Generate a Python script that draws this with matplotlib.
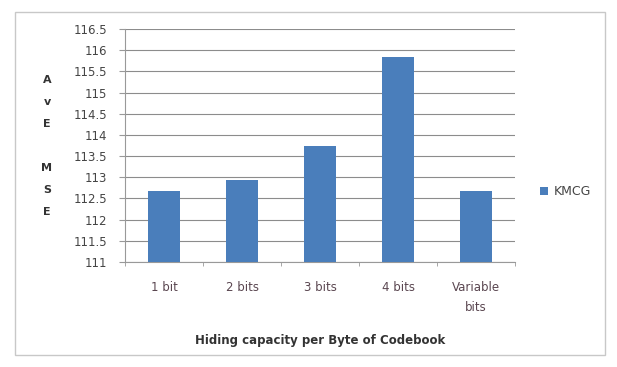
import matplotlib.pyplot as plt
from matplotlib.patches import Rectangle

# Данные
categories = ['1 bit', '2 bits', '3 bits', '4 bits', 'Variable\nbits']
kmcg = [112.68, 112.94, 113.74, 115.83, 112.68]
y_ticks = [111, 111.5, 112, 112.5, 113, 113.5, 114, 114.5, 115, 115.5, 116, 116.5]
y_labels = ['111', '111.5', '112', '112.5', '113', '113.5', '114', '114.5',
            '115', '115.5', '116', '116.5']

plt.rcParams['font.family'] = ['DejaVu Sans']

fig = plt.figure(figsize=(6.17, 3.67), dpi=100)
ax = fig.add_axes([125 / 617, 1 - 262 / 367, 390 / 617, 233 / 367])

# Рамка вокруг всей диаграммы
fig.patches.append(Rectangle((15 / 617, 1 - 355 / 367), 590 / 617, 343 / 367,
                             transform=fig.transFigure, fill=False,
                             edgecolor='#c8c8c8', linewidth=1))

x = list(range(len(categories)))
ax.bar(x, [v - 111 for v in kmcg], bottom=111, width=0.41,
       color='#4a7ebb', label='KMCG', zorder=3)

ax.set_xlim(-0.5, len(categories) - 0.5)
ax.set_ylim(111, 116.5)
ax.set_yticks(y_ticks)
ax.set_yticklabels(y_labels, fontsize=8.5, color='#454545')
ax.set_xticks(x)
ax.set_xticklabels(categories, fontsize=8.5, color='#5a4650', linespacing=1.7)
ax.set_xticks([i + 0.5 for i in range(-1, len(categories))], minor=True)
ax.tick_params(axis='x', which='major', length=0, pad=14)
ax.tick_params(axis='x', which='minor', length=3, color='#999999')
ax.tick_params(axis='y', length=4, color='#999999', pad=9)

ax.grid(axis='y', color='#8c8c8c', linewidth=0.8, zorder=0)
for side in ['top', 'right']:
    ax.spines[side].set_visible(False)
ax.spines['left'].set_color('#999999')
ax.spines['bottom'].set_color('#999999')

ax.set_xlabel('Hiding capacity per Byte of Codebook', fontsize=8.5,
              fontweight='bold', color='#333333', labelpad=14)

# Подпись оси Y буквами столбиком
fig.text(47 / 617, 1 - 146 / 367, 'A\nv\nE\n\nM\nS\nE', fontsize=8,
         fontweight='bold', color='#333333', ha='center', va='center',
         linespacing=2.5)

fig.legend(loc='center left', bbox_to_anchor=(529 / 617, 1 - 192 / 367),
           frameon=False, fontsize=9, handlelength=0.6, handleheight=0.6,
           handletextpad=0.5, labelcolor='#454545')

plt.savefig('out.png', dpi=100)
